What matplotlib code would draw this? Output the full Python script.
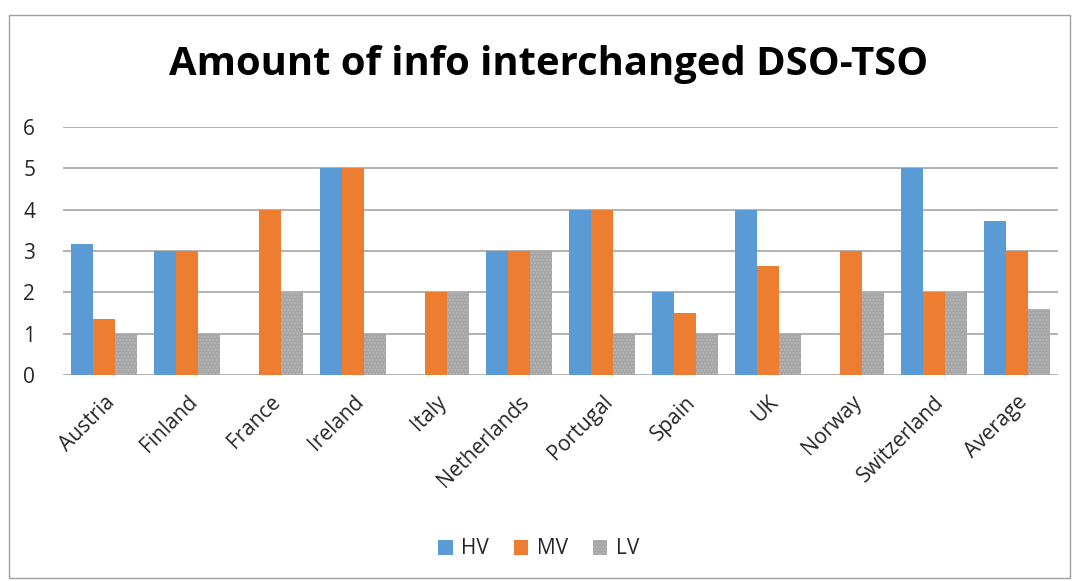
import matplotlib
matplotlib.use("Agg")
import matplotlib.pyplot as plt
import numpy as np
from matplotlib.patches import Rectangle

categories = ["Austria", "Finland", "France", "Ireland", "Italy", "Netherlands",
              "Portugal", "Spain", "UK", "Norway", "Switzerland", "Average"]
hv = [3.18, 3, 0, 5, 0, 3, 4, 2, 4, 0, 5, 3.73]
mv = [1.35, 3, 4, 5, 2, 3, 4, 1.5, 2.64, 3, 2, 3.0]
lv = [1, 1, 2, 1, 2, 3, 1, 1, 1, 2, 2, 1.6]
series = [("HV", hv, "#5B9BD5"), ("MV", mv, "#ED7D31"), ("LV", lv, "#A5A5A5")]

plt.rcParams['font.family'] = ['Open Sans', 'DejaVu Sans']
W, H = 1077, 581
fig = plt.figure(figsize=(W/100, H/100), dpi=100)
ax = fig.add_axes([63/W, 1-375/H, (1058-63)/W, (375-127)/H])

x = np.arange(len(categories))
bw = 0.265
for i, (name, vals, col) in enumerate(series):
    kw = dict(color=col, linewidth=0, label=name, zorder=3)
    if name == "LV":
        kw.update(hatch='.....', edgecolor='#B8B8B8')
    ax.bar(x + (i - 1) * bw, vals, bw, **kw)

ax.set_xlim(-0.5, len(categories) - 0.5)
ax.set_ylim(0, 6)
ax.set_yticks(range(7))
ax.grid(axis='y', color='#A6A6A6', linewidth=1.2, zorder=0)
for s in ax.spines.values():
    s.set_visible(False)
ax.tick_params(axis='both', length=0, labelsize=15, colors='#262626')
ax.tick_params(axis='y', pad=20)
ax.tick_params(axis='x', pad=12)
ax.set_xticks(x)
ax.set_xticklabels(categories, rotation=45, ha='right', rotation_mode='anchor')

fig.text(0.5 + 10/W, 1-65/H, "Amount of info interchanged DSO-TSO", ha='center', va='center',
         fontsize=28.8, fontweight='bold', color='black')

leg = fig.legend(loc='center', bbox_to_anchor=(0.5, 1-549/H), ncol=3, frameon=False,
                 fontsize=15, handlelength=0.7, handleheight=0.7, columnspacing=1.2,
                 handletextpad=0.4)
for t in leg.get_texts():
    t.set_color('#262626')

fig.patches.append(Rectangle((9/W, 1-578/H), (1070-9)/W, (578-15)/H,
                             transform=fig.transFigure, fill=False,
                             edgecolor='#A0A0A0', linewidth=1))
fig.savefig("out.png", dpi=100)
